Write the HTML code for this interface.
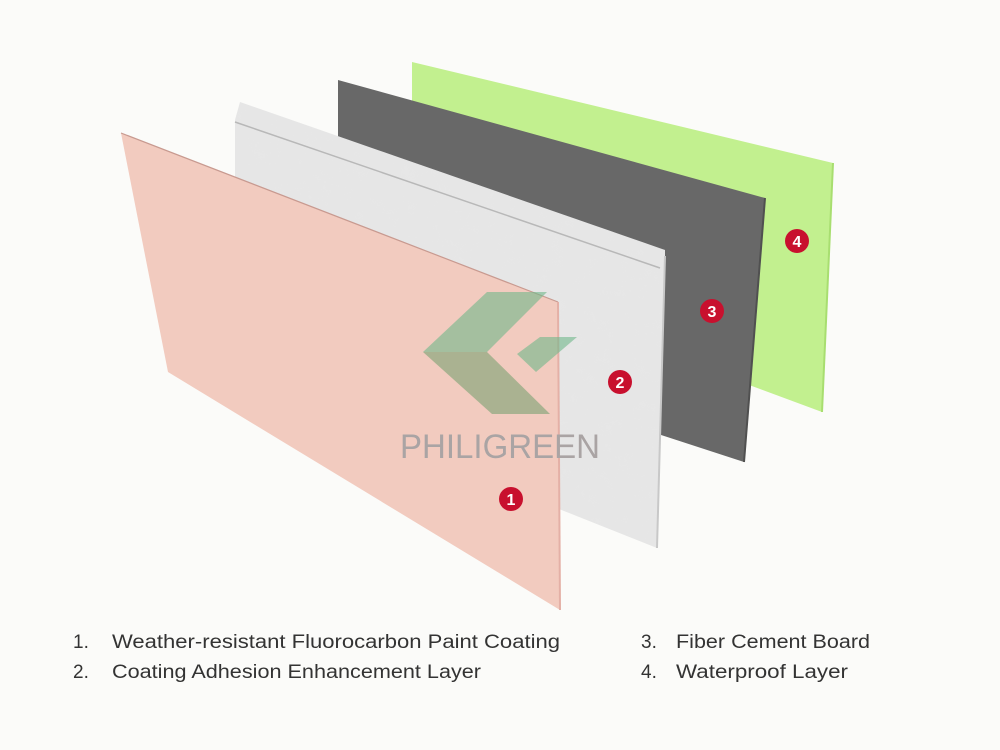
<!DOCTYPE html>
<html><head><meta charset="utf-8"><style>
html,body{margin:0;padding:0;background:#fbfbf9;}
svg{display:block;}
</style></head><body>
<svg width="1000" height="750" viewBox="0 0 1000 750" xmlns="http://www.w3.org/2000/svg">
<defs>
<filter id="tex" x="0" y="0" width="100%" height="100%">
<feTurbulence type="fractalNoise" baseFrequency="0.06" numOctaves="3" seed="3"/>
<feColorMatrix type="matrix" values="0 0 0 0 0.8  0 0 0 0 0.8  0 0 0 0 0.8  0 0 0 -1.2 0.75"/>
<feComposite in2="SourceGraphic" operator="in"/>
</filter>
</defs>
<rect width="1000" height="750" fill="#fbfbf9"/>
<polygon points="412,62 833,163 822,412 412,260" fill="#c2f08f"/>
<line x1="833" y1="163" x2="822" y2="412" stroke="#a8de70" stroke-width="2"/>
<polygon points="338,80 765,198 744,462 338,330" fill="#686868"/>
<line x1="765" y1="198" x2="744" y2="462" stroke="#505050" stroke-width="2"/>
<polygon points="240,102 665,250 665,268 657,548 235,380 235,120" fill="#e6e6e6"/>
<polygon points="240,102 665,250 665,268 657,548 235,380 235,120" fill="#e6e6e6" filter="url(#tex)"/>
<line x1="235" y1="122" x2="660" y2="268" stroke="#b8b8b8" stroke-width="1.5"/>
<line x1="665" y1="256" x2="657" y2="548" stroke="#c8c8c8" stroke-width="2"/>
<polygon points="121,133 558,302 560,610 168,372" fill="#f2cbbf"/>
<line x1="121" y1="133" x2="558" y2="302" stroke="#c89a90" stroke-width="1.2"/>
<line x1="558" y1="302" x2="560" y2="610" stroke="#e4b0a6" stroke-width="2"/>
<polygon points="487,292 547,292 487,352 423,352" fill="#6fb88a" opacity="0.6"/>
<polygon points="423,352 487,352 550,414 492,414" fill="#6f9e6c" opacity="0.55"/>
<polygon points="517,354 540,337 577,337 536,372" fill="#6fb88a" opacity="0.6"/>
<text x="400" y="458" font-family="Liberation Sans, sans-serif" font-size="34" fill="#aaa4a4" textLength="200" lengthAdjust="spacingAndGlyphs">PHILIGREEN</text>
<g font-family="Liberation Sans, sans-serif" font-size="16" font-weight="bold" fill="#fff" text-anchor="middle">
<circle cx="511" cy="499" r="12" fill="#c8102e"/><text x="511" y="505">1</text>
<circle cx="620" cy="382" r="12" fill="#c8102e"/><text x="620" y="388">2</text>
<circle cx="712" cy="311" r="12" fill="#c8102e"/><text x="712" y="317">3</text>
<circle cx="797" cy="241" r="12" fill="#c8102e"/><text x="797" y="247">4</text>
</g>
<g font-family="Liberation Sans, sans-serif" font-size="19" fill="#333">
<text x="73" y="648">1.</text>
<text x="112" y="648" textLength="448" lengthAdjust="spacingAndGlyphs">Weather-resistant Fluorocarbon Paint Coating</text>
<text x="73" y="678">2.</text>
<text x="112" y="678" textLength="369" lengthAdjust="spacingAndGlyphs">Coating Adhesion Enhancement Layer</text>
<text x="641" y="648">3.</text>
<text x="676" y="648" textLength="194" lengthAdjust="spacingAndGlyphs">Fiber Cement Board</text>
<text x="641" y="678">4.</text>
<text x="676" y="678" textLength="172" lengthAdjust="spacingAndGlyphs">Waterproof Layer</text>
</g>
</svg>
</body></html>
